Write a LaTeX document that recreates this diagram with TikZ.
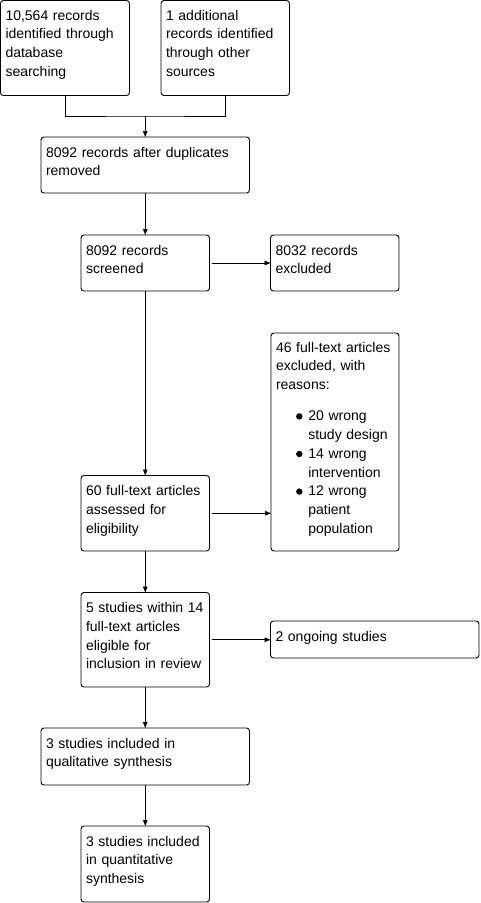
\documentclass[tikz,border=0pt]{standalone}
\usepackage{fontspec}
\setmainfont{Liberation Sans}
\usetikzlibrary{arrows.meta,calc}
\newcommand\firstln{\noindent\rule{0pt}{13.5pt}}
\begin{document}
\begin{tikzpicture}[x=1pt,y=-1pt,
  box/.style={draw=black,line width=0.9pt,rounded corners=3pt,rectangle,anchor=north west,inner sep=0pt,outer sep=0pt},
  txt/.style={anchor=north west,inner sep=0pt,outer sep=0pt,text width=#1,align=left,font=\fontsize{14}{18.8}\selectfont},
  arr/.style={draw=black,line width=0.9pt,-{Triangle[length=6pt,width=4.5pt]}},
  harr/.style={arr,shorten <=2pt},
  ln/.style={draw=black,line width=0.9pt}]
\useasboundingbox (0,0) rectangle (481,903);
\fill[white] (0,0) rectangle (481,903);

% boxes
\node[box,minimum width=129pt,minimum height=95pt] (a) at (0.5,0.5) {};
\node[box,minimum width=128.5pt,minimum height=95pt] (b) at (161,0.5) {};
\node[box,minimum width=208.5pt,minimum height=56pt] (c) at (41,137) {};
\node[box,minimum width=128.5pt,minimum height=56pt] (d) at (81,235) {};
\node[box,minimum width=128.5pt,minimum height=56pt] (e) at (270.5,235) {};
\node[box,minimum width=128pt,minimum height=218pt] (f) at (271,333) {};
\node[box,minimum width=128.5pt,minimum height=75.5pt] (g) at (81,475.5) {};
\node[box,minimum width=128.5pt,minimum height=94.5pt] (h) at (81,592.5) {};
\node[box,minimum width=208.5pt,minimum height=37pt] (i) at (270.5,621) {};
\node[box,minimum width=208.5pt,minimum height=57pt] (j) at (41,728) {};
\node[box,minimum width=128.5pt,minimum height=76pt] (k) at (81,826) {};

% texts
\node[txt=125pt] (ta) at ([shift={(5pt,-6pt)}]a.north west) {\firstln 10,564 records\\identified through\\database\\searching};
\node[txt=125pt] (tb) at ([shift={(5pt,-6pt)}]b.north west) {\firstln 1 additional\\records identified\\through other\\sources};
\node[txt=205pt] (tc) at ([shift={(5pt,-6.5pt)}]c.north west) {\firstln 8092 records after duplicates\\removed};
\node[txt=125pt] (td) at ([shift={(5pt,-6.5pt)}]d.north west) {\firstln 8092 records\\screened};
\node[txt=125pt] (te) at ([shift={(5pt,-6.5pt)}]e.north west) {\firstln 8032 records\\excluded};
\node[txt=125pt] (tf) at ([shift={(5pt,-5.5pt)}]f.north west) {\firstln 46 full-text articles\\excluded, with\\reasons:\\[12.3pt]\hspace*{32.3pt}20 wrong\\\hspace*{32.3pt}study design\\\hspace*{32.3pt}14 wrong\\\hspace*{32.3pt}intervention\\\hspace*{32.3pt}12 wrong\\\hspace*{32.3pt}patient\\\hspace*{32.3pt}population};
\node[txt=125pt] (tg) at ([shift={(5pt,-6.5pt)}]g.north west) {\firstln 60 full-text articles\\assessed for\\eligibility};
\node[txt=125pt] (th) at ([shift={(5pt,-6.5pt)}]h.north west) {\firstln 5 studies within 14\\full-text articles\\eligible for\\inclusion in review};
\node[txt=205pt] (ti) at ([shift={(5pt,-6.5pt)}]i.north west) {\firstln 2 ongoing studies};
\node[txt=205pt] (tj) at ([shift={(5pt,-6.5pt)}]j.north west) {\firstln 3 studies included in\\qualitative synthesis};
\node[txt=125pt] (tk) at ([shift={(5pt,-6.5pt)}]k.north west) {\firstln 3 studies included\\in quantitative\\synthesis};

% bullets
\fill ([shift={(23.3pt,-77.9pt)}]tf.north west) circle (3.2pt);
\fill ([shift={(23.3pt,-115.5pt)}]tf.north west) circle (3.2pt);
\fill ([shift={(23.3pt,-153.1pt)}]tf.north west) circle (3.2pt);

% connectors
\coordinate (mid) at (145.25,116);
\draw[ln] (a.south) |- (mid) -| (b.south);
\draw[arr] (mid) -- (c.north);
\draw[arr] (c.south) -- (d.north);
\draw[harr] (d.east) -- (e.west);
\draw[arr] (d.south) -- (g.north);
\draw[harr] (g.east) -- (g.east -| f.west);
\draw[arr] (g.south) -- (h.north);
\draw[harr] (h.east) -- (h.east -| i.west);
\draw[arr] (h.south) -- (j.north);
\draw[arr] (j.south) -- (k.north);
\end{tikzpicture}
\end{document}
